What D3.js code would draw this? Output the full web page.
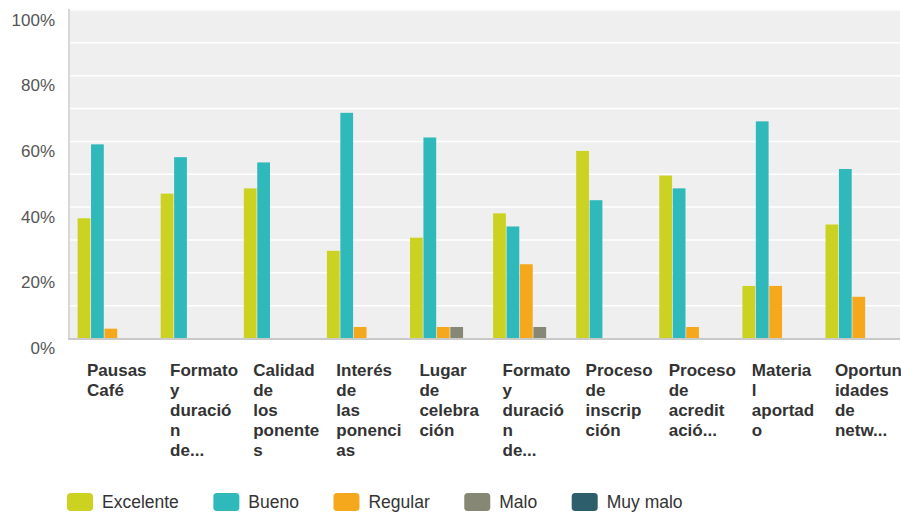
<!DOCTYPE html>
<html><head><meta charset="utf-8">
<script src="https://cdn.jsdelivr.net/npm/d3@7"></script>
<style>html,body{margin:0;padding:0;background:#fff;}svg{display:block;font-family:"Liberation Sans",Arial,sans-serif;}</style>
</head><body>
<svg id="c" width="901" height="515"></svg>
<script>
const categories = [
  ["Pausas","Café"],
  ["Formato","y","duració","n","de..."],
  ["Calidad","de","los","ponente","s"],
  ["Interés","de","las","ponenci","as"],
  ["Lugar","de","celebra","ción"],
  ["Formato","y","duració","n","de..."],
  ["Proceso","de","inscrip","ción"],
  ["Proceso","de","acredit","ació..."],
  ["Materia","l","aportad","o"],
  ["Oportun","idades","de","netw..."]
];
const series = ["Excelente","Bueno","Regular","Malo","Muy malo"];
const colors = ["#cbd222","#30b9bb","#f5a81b","#878775","#2d5e6b"];
const excelente = [36.6, 44.1, 45.7, 26.7, 30.7, 38.1, 57.1, 49.6, 16.0, 34.7];
const bueno     = [59.1, 55.2, 53.6, 68.7, 61.2, 34.1, 42.1, 45.7, 66.1, 51.6];
const regular   = [3.0, 0, 0, 3.5, 3.5, 22.6, 0, 3.5, 16.0, 12.7];
const malo      = [0, 0, 0, 0, 3.5, 3.5, 0, 0, 0, 0];
const muyMalo   = [0, 0, 0, 0, 0, 0, 0, 0, 0, 0];
const yTicks = [0, 20, 40, 60, 80, 100];
const gridTicks = [10, 20, 30, 40, 50, 60, 70, 80, 90, 100];

const values = [excelente, bueno, regular, malo, muyMalo];
const svg = d3.select("#c");
const L = 69, R = 900, T = 10, B = 338.5;
const idx = d3.range(categories.length);
const x0 = d3.scaleBand().domain(idx).range([L, R]).padding(0);
const x1 = d3.scaleBand().domain(d3.range(series.length)).range([8.6, x0.bandwidth() - 8]).paddingInner(0.05);
const y = d3.scaleLinear().domain([0, 100]).range([B, T]);

// background
svg.append("rect").attr("x", L).attr("y", T - 1).attr("width", R - L).attr("height", B - T + 1).attr("fill", "#efefef");
// gridlines
svg.append("g").selectAll("line").data(gridTicks).join("line")
  .attr("x1", L).attr("x2", R).attr("y1", d => y(d)).attr("y2", d => y(d))
  .attr("stroke", "#ffffff").attr("stroke-width", 1.5);
// left axis line
svg.append("line").attr("x1", L).attr("x2", L).attr("y1", T - 1).attr("y2", B)
  .attr("stroke", "#d8d8d8").attr("stroke-width", 2);

// bars
const groups = svg.append("g").selectAll("g").data(idx).join("g")
  .attr("transform", i => `translate(${x0(i)},0)`);
groups.selectAll("rect").data(i => values.map((s, k) => ({k, v: s[i]})).filter(d => d.v > 0)).join("rect")
  .attr("x", d => x1(d.k)).attr("width", x1.bandwidth())
  .attr("y", d => y(d.v)).attr("height", d => y(0) - y(d.v))
  .attr("fill", d => colors[d.k]);

// bottom axis line
svg.append("line").attr("x1", L - 1).attr("x2", R).attr("y1", B + 0.5).attr("y2", B + 0.5)
  .attr("stroke", "#c9c9c9").attr("stroke-width", 2);

// y axis labels
const yAxis = d3.axisLeft(y).tickValues(yTicks).tickFormat(d => d + "%").tickSize(0).tickPadding(0);
const ya = svg.append("g").attr("transform", "translate(55,0)").call(yAxis);
ya.select(".domain").remove();
ya.selectAll("text").attr("font-size", 17).attr("fill", "#555").attr("font-family", "Liberation Sans, Arial, sans-serif")
  .attr("dy", 15).attr("text-anchor", "end");

// x labels
const xl = svg.append("g").selectAll("text").data(idx).join("text")
  .attr("x", i => x0(i) + 18).attr("y", 376)
  .attr("font-size", 17).attr("font-weight", "bold").attr("fill", "#333");
xl.selectAll("tspan").data(i => categories[i].map(t => ({t, i}))).join("tspan")
  .attr("x", d => x0(d.i) + 18).attr("dy", (d, j) => j === 0 ? 0 : 20).text(d => d.t);

// legend
const lg = svg.append("g");
let lx = 67;
series.forEach((s, k) => {
  lg.append("rect").attr("x", lx).attr("y", 493).attr("width", 26).attr("height", 18).attr("rx", 3.5)
    .attr("fill", colors[k]);
  const t = lg.append("text").attr("x", lx + 35).attr("y", 508).attr("font-size", 17.5).attr("fill", "#333").text(s);
  const w = t.node().getComputedTextLength();
  lx += 35 + w + 34.5;
});
</script>
</body></html>
